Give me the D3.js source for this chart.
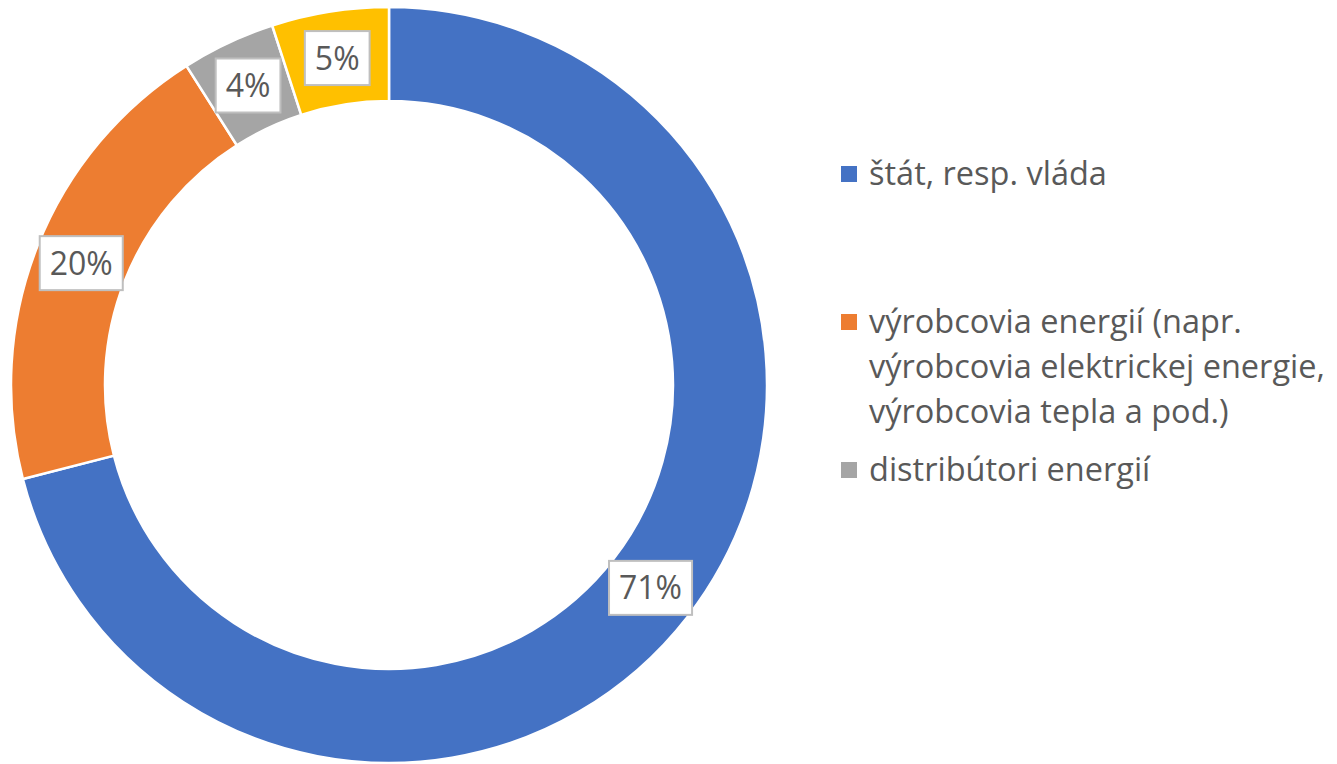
<!DOCTYPE html>
<html lang="sk">
<head>
<meta charset="utf-8">
<style>
  body { margin: 0; padding: 0; background: #fff; font-family: "Open Sans", Lato, sans-serif; }
</style>
</head>
<body>
<svg width="1337" height="764"></svg>
<script src="https://d3js.org/d3.v7.min.js"></script>
<script>
// data
var categories = ["štát, resp. vláda", "výrobcovia energií (napr. výrobcovia elektrickej energie, výrobcovia tepla a pod.)", "distribútori energií", ""];
var legendLines = [["štát, resp. vláda"], ["výrobcovia energií (napr.", "výrobcovia elektrickej energie,", "výrobcovia tepla a pod.)"], ["distribútori energií"]];
var values = [71, 20, 4, 5];
var colors = ["#4472c4", "#ed7d31", "#a5a5a5", "#ffc000"];

var svg = d3.select("svg"),
  cx = 389, cy = 385,
  outerR = 378, innerR = 284;

var data = categories.map(function(c, i) { return { name: c, value: values[i], color: colors[i] }; });

var pie = d3.pie().sort(null).value(function(d) { return d.value; });
var arc = d3.arc().innerRadius(innerR).outerRadius(outerR);

var g = svg.append("g").attr("transform", "translate(" + cx + "," + cy + ")");

var arcs = pie(data);

g.selectAll("path")
  .data(arcs)
  .enter().append("path")
  .attr("d", arc)
  .attr("fill", function(d) { return d.data.color; })
  .attr("stroke", "#fff")
  .attr("stroke-width", 2.5);

// data labels in boxes
var lab = g.selectAll(".lab")
  .data(arcs)
  .enter().append("g")
  .attr("class", "lab")
  .attr("transform", function(d) { return "translate(" + arc.centroid(d) + ")"; });

lab.append("text")
  .attr("text-anchor", "middle")
  .attr("dy", "0.36em")
  .attr("fill", "#595959")
  .style("font-size", "32px")
  .text(function(d) { return d.data.value + "%"; });

lab.each(function() {
  var t = d3.select(this).select("text"),
    w = t.node().getComputedTextLength() + 20,
    h = 54;
  d3.select(this).insert("rect", "text")
    .attr("x", -w / 2)
    .attr("y", -h / 2)
    .attr("width", w)
    .attr("height", h)
    .attr("fill", "#fff")
    .attr("stroke", "#bfbfbf")
    .attr("stroke-width", 2);
});

// legend
var legendY = [174, 322, 470];
var legend = svg.append("g")
  .selectAll("g")
  .data(legendLines)
  .enter().append("g")
  .attr("transform", function(d, i) { return "translate(841," + legendY[i] + ")"; });

legend.append("rect")
  .attr("x", 0)
  .attr("y", -8)
  .attr("width", 16)
  .attr("height", 16)
  .attr("fill", function(d, i) { return colors[i]; });

legend.append("text")
  .attr("fill", "#595959")
  .style("font-size", "32.5px")
  .selectAll("tspan")
  .data(function(d) { return d; })
  .enter().append("tspan")
  .attr("x", 28)
  .attr("y", function(d, i) { return i * 45; })
  .attr("dy", "0.35em")
  .text(function(d) { return d; });
</script>
</body>
</html>
